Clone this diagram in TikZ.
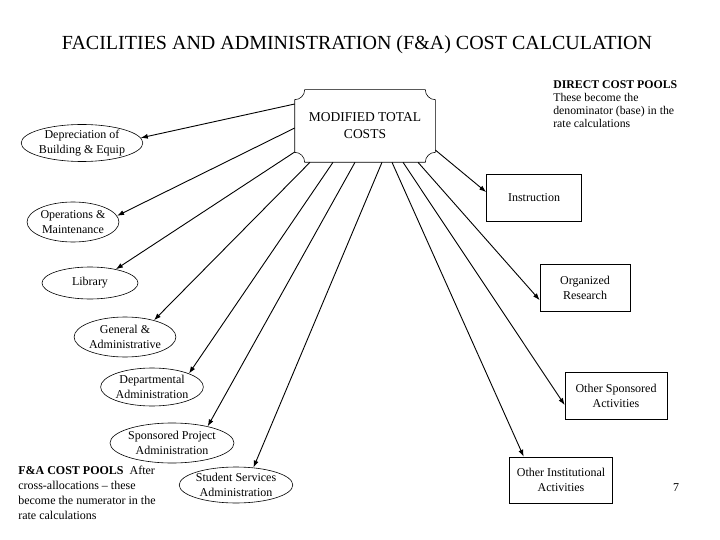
\documentclass[tikz,border=0pt]{standalone}
\usepackage{fontspec}
\setmainfont{Liberation Serif}
\usetikzlibrary{shapes,arrows.meta}

\begin{document}
\begin{tikzpicture}[x=1pt,y=-1pt,>={Latex[length=7pt,width=5pt]},font=\fontsize{12}{14.5}\selectfont]
\tikzstyle{pool}=[ellipse,draw,line width=0.6pt,align=center,inner sep=0pt]
\tikzstyle{base}=[rectangle,draw,line width=0.6pt,align=center,inner sep=0pt]
\tikzstyle{note}=[align=left,anchor=north west,inner sep=0pt]
\tikzstyle{every path}=[line width=0.6pt]
\useasboundingbox (0,0) rectangle (720,540);

\node (title) at (357,45) {\fontsize{20}{24}\selectfont FACILITIES AND ADMINISTRATION (F\&A) COST CALCULATION};

% modified total costs box, concave corners
\node[align=center,minimum width=140pt,minimum height=72pt,inner sep=0pt,font=\fontsize{13.5}{17}\selectfont] (mtc) at (365,126) {MODIFIED TOTAL\\COSTS};
\draw ([xshift=10pt]mtc.north west) -- ([xshift=-10pt]mtc.north east)
  .. controls +(0,-5.5pt) and +(-5.5pt,0) .. ([yshift=-10pt]mtc.north east)
  -- ([yshift=10pt]mtc.south east)
  .. controls +(-5.5pt,0) and +(0,5.5pt) .. ([xshift=-10pt]mtc.south east)
  -- ([xshift=10pt]mtc.south west)
  .. controls +(0,5.5pt) and +(5.5pt,0) .. ([yshift=10pt]mtc.south west)
  -- ([yshift=-10pt]mtc.north west)
  .. controls +(5.5pt,0) and +(0,-5.5pt) .. ([xshift=10pt]mtc.north west) -- cycle;

% F&A cost pools
\node[pool,minimum width=119pt,minimum height=37pt] (dep) at (82,143) {Depreciation of\\Building \& Equip};
\node[pool,minimum width=88pt,minimum height=40pt] (ops) at (73,222) {Operations \&\\Maintenance};
\node[pool,minimum width=96pt,minimum height=32pt] (lib) at (90,283) {Library};
\node[pool,minimum width=86pt,minimum height=40pt] (gna) at (125,337) {General \&\\Administrative};
\node[pool,minimum width=92pt,minimum height=38pt] (dept) at (152,387) {Departmental\\Administration};
\node[pool,minimum width=112pt,minimum height=40pt] (spa) at (172,443) {Sponsored Project\\Administration};
\node[pool,minimum width=104pt,minimum height=36pt] (stud) at (236,485) {Student Services\\Administration};

% direct cost pools
\node[base,minimum width=95pt,minimum height=47pt] (instr) at (534,198) {Instruction};
\node[base,minimum width=90pt,minimum height=47pt] (orgres) at (585,288) {Organized\\Research};
\node[base,minimum width=102pt,minimum height=47pt] (othspon) at (616,396) {Other Sponsored\\Activities};
\node[base,minimum width=103pt,minimum height=46pt] (othinst) at (561,480) {Other Institutional\\Activities};

\node[note,font=\fontsize{11.8}{13}\selectfont] (direct) at (553,80) {\textbf{DIRECT COST POOLS}\\These become the\\denominator (base) in the\\rate calculations};
\node[note,font=\fontsize{12}{14.8}\selectfont] (fanda) at (18,466) {\textbf{F\&A COST POOLS}\ \ After\\cross-allocations -- these\\become the numerator in the\\rate calculations};
\node (pg) at (676,488) {7};

\draw[->,line width=0.9pt] ([yshift=22pt]mtc.west) -- (dep.5);
\draw[->,line width=0.9pt] ([yshift=-2pt]mtc.west) -- (ops.8);
\draw[->,line width=0.9pt] ([yshift=-26pt]mtc.west) -- (lib.28);
\draw[->,line width=0.9pt] ([xshift=-55pt]mtc.south) -- (gna.30);
\draw[->,line width=0.9pt] ([xshift=-32pt]mtc.south) -- (dept.20);
\draw[->,line width=0.9pt] ([xshift=-10pt]mtc.south) -- (spa.25);
\draw[->,line width=0.9pt] ([xshift=17pt]mtc.south) -- (stud.45);
\draw[->,line width=0.9pt] ([xshift=27pt]mtc.south) -- (othinst.148);
\draw[->,line width=0.9pt] ([xshift=38pt]mtc.south) -- (othspon.190);
\draw[->,line width=0.9pt] ([xshift=53pt]mtc.south) -- (orgres.195);
\draw[->,line width=0.9pt] ([yshift=-24pt]mtc.east) -- (instr.173);
\end{tikzpicture}
\end{document}
